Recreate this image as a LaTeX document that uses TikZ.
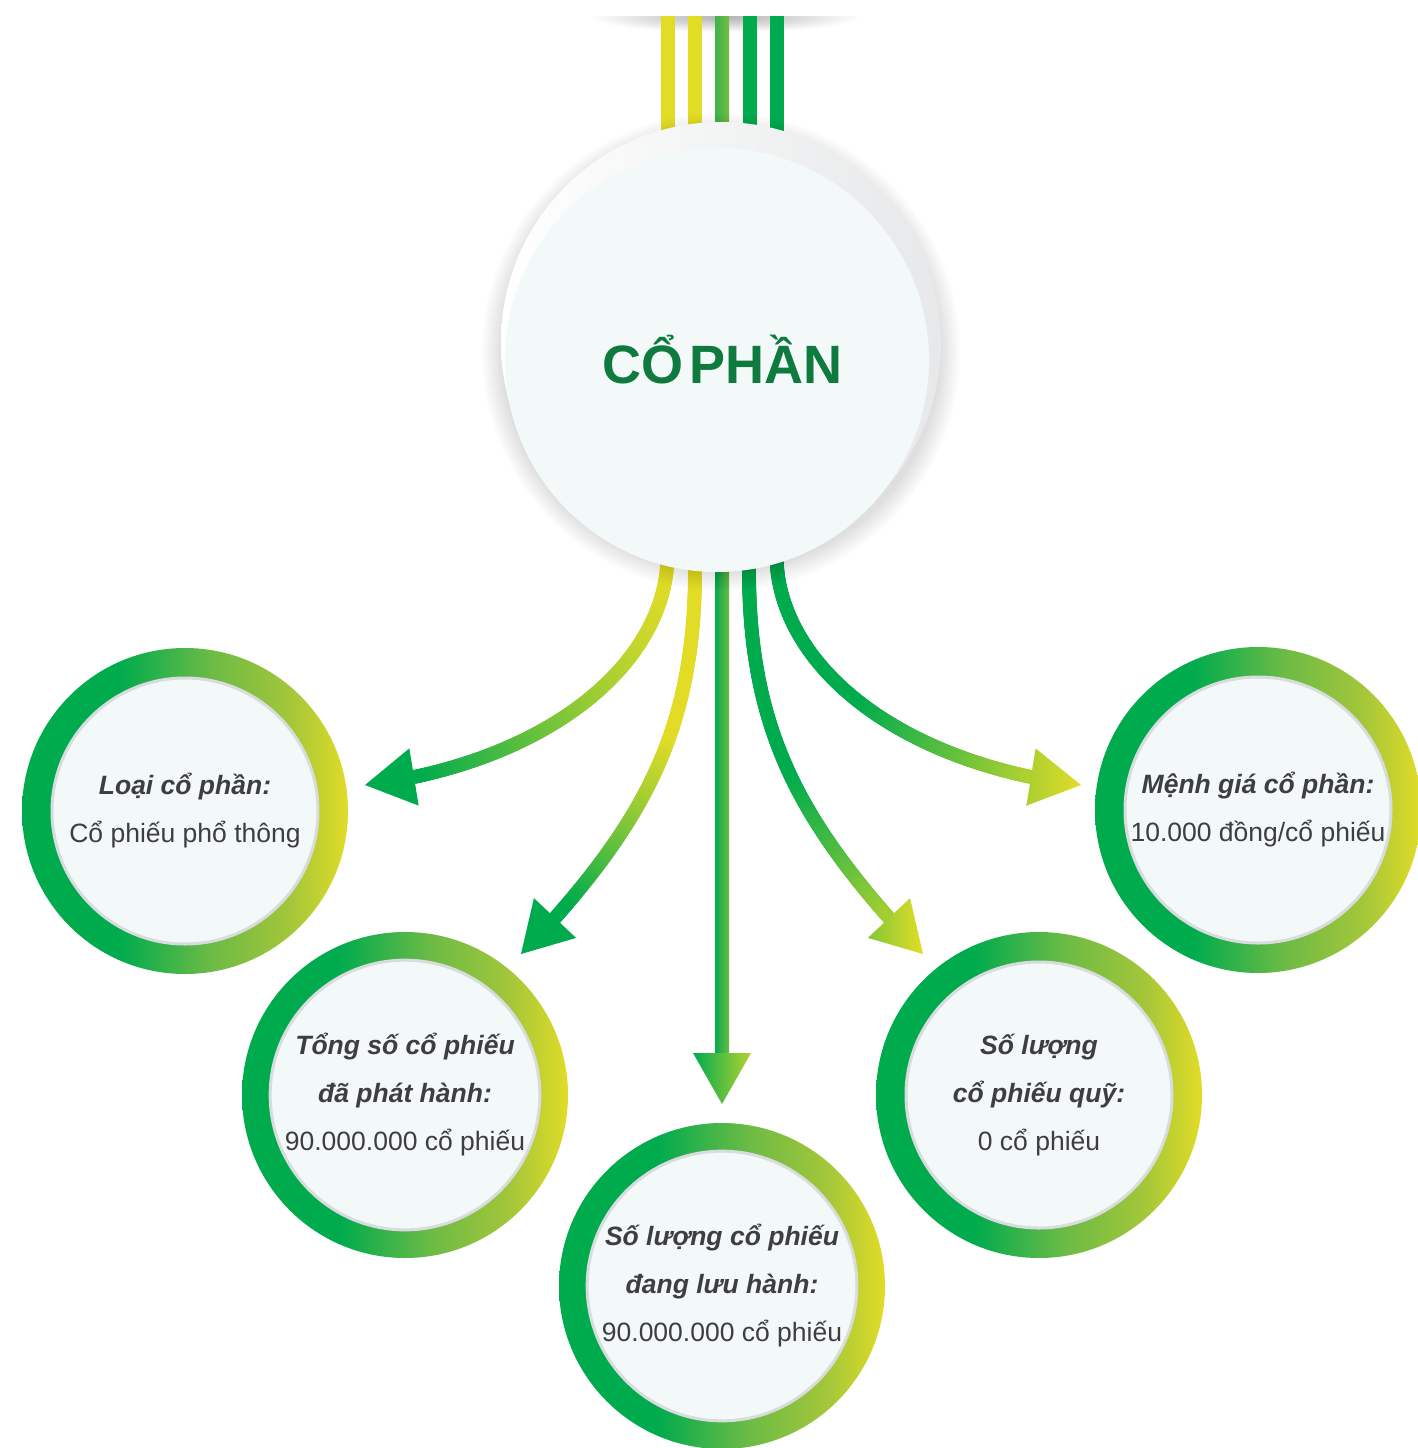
\documentclass[tikz,border=0pt]{standalone}
\usepackage{fontspec}
\setmainfont{Liberation Sans}
\usetikzlibrary{decorations.markings,calc,fadings}

\definecolor{grn}{HTML}{00AB4E}
\definecolor{yel}{HTML}{E2DC27}
\definecolor{midg}{HTML}{6CBB45}
\definecolor{ygrn}{HTML}{A3C63A}
\definecolor{disk}{HTML}{F3F8F8}
\definecolor{rim}{HTML}{D9DCDF}
\definecolor{ink}{HTML}{3E3E40}
\definecolor{deepgreen}{HTML}{0E7A3D}
\definecolor{barga}{HTML}{3BB44A}
\definecolor{bargb}{HTML}{74BC44}
\definecolor{diskgray}{HTML}{E6E8E9}

% ring colour: green on the left, turning yellow towards the right
\pgfdeclarehorizontalshading{ringfill}{100bp}{color(0bp)=(grn); color(25bp)=(grn); color(40bp)=(grn); color(54bp)=(midg); color(66bp)=(ygrn); color(75bp)=(yel); color(100bp)=(yel)}

\tikzfading[name=stripfade, inner color=transparent!0, outer color=transparent!100]

\newcommand\ringtitle[1]{\textbf{\textit{#1}}}

\tikzset{
  % thick stroke whose colour follows the x position: #3 at x=#1, #4 at x=#2
  gradstroke/.style n args={4}{decorate, decoration={markings,
      mark=between positions 0 and 1 step 1.5pt with {%
        \pgfgettransformentries{\gtA}{\gtB}{\gtC}{\gtD}{\gtX}{\gtY}%
        \pgfmathtruncatemacro\gpct{100*max(0,min(1,(\gtX-#1)/(#2-#1)))}%
        \colorlet{strokemix}{#4!\gpct!#3}%
        \fill[strokemix] (0,0) circle[radius=7pt];}}},
  topbar/.style={line width=14pt, line cap=butt},
  backdisk/.style={circle, minimum size=440pt, inner sep=0pt, left color=white, right color=diskgray},
  coredisk/.style={circle, minimum size=424pt, inner sep=0pt, fill=disk, text=deepgreen,
    font=\fontsize{54pt}{60pt}\selectfont\bfseries},
  ringouter/.style={circle, minimum size=326pt, inner sep=0pt, shade, shading=ringfill},
  ringinner/.style={circle, minimum size=266pt, inner sep=0pt, fill=disk, draw=rim, line width=3pt,
    align=center, text=ink, font=\fontsize{26.5pt}{48pt}\selectfont},
}

\begin{document}
\begin{tikzpicture}[x=1pt, y=-1pt]
\useasboundingbox (0,0) rectangle (1417,1448);
\fill[white] (0,0) rectangle (1417,1448);

% soft shadow strip at the top, cut off sharply along its upper edge
\fill[black, opacity=0.3, path fading=stripfade] (590,2) rectangle (860,32);
\fill[white] (0,0) rectangle (1417,16);

% five bars coming in from the top
\draw[topbar, yel] (668,16) -- (668,150);
\draw[topbar, yel] (695,16) -- (695,150);
\shade[left color=barga, right color=bargb] (715,16) rectangle (729,150);
\draw[topbar, grn] (750,16) -- (750,150);
\draw[topbar, grn] (777,16) -- (777,150);

% start, base and tip points of the five arrows
\coordinate (s1) at (667,540); \coordinate (b1) at (414,777);  \coordinate (t1) at (365,785);
\coordinate (s2) at (695,540); \coordinate (b2) at (555,918);  \coordinate (t2) at (521,954);
\coordinate (s3) at (722,540); \coordinate (b3) at (722,1053); \coordinate (t3) at (722,1104);
\coordinate (s4) at (749,540); \coordinate (b4) at (889,918);  \coordinate (t4) at (923,954);
\coordinate (s5) at (777,540); \coordinate (b5) at (1031,777); \coordinate (t5) at (1081,785);

% arrow shafts
\path[gradstroke={414}{667}{grn}{yel}] (s1) -- (667,567) .. controls (659,660) and (564,745) .. (b1);
\path[gradstroke={565}{668}{grn}{yel}] (s2) -- (695,570) .. controls (695,720) and (650,810) .. (b2);
\shade[left color=grn!95!midg, right color=midg] ($(s3)+(-7,0)$) rectangle ($(b3)+(7,2)$);
\path[gradstroke={790}{925}{grn}{yel}] (s4) -- (749,570) .. controls (749,720) and (794,810) .. (b4);
\path[gradstroke={860}{1081}{grn}{yel}] (s5) -- (777,567) .. controls (785,660) and (880,745) .. (b5);

% arrow heads
\fill[grn] ($(b1)!29pt!90:(t1)$) -- (t1) -- ($(b1)!29pt!-90:(t1)$) -- cycle;
\fill[grn] ($(b2)!29pt!90:(t2)$) -- (t2) -- ($(b2)!29pt!-90:(t2)$) -- cycle;
\shade[left color=grn, right color=yel!80!grn] ($(b3)!29pt!90:(t3)$) -- (t3) -- ($(b3)!29pt!-90:(t3)$) -- cycle;
\shade[left color=yel!58!grn, right color=yel] ($(b4)!29pt!90:(t4)$) -- (t4) -- ($(b4)!29pt!-90:(t4)$) -- cycle;
\shade[left color=yel!75!grn, right color=yel] ($(b5)!29pt!90:(t5)$) -- (t5) -- ($(b5)!29pt!-90:(t5)$) -- cycle;

% central disk with its soft shadow
\foreach \k in {0,...,15}
  \fill[black, opacity=0.009] (721,352) circle[radius=220+1.3*\k];
\node[backdisk] (cb) at (721,342) {};
\node[coredisk] (c) at (717,360) {\hspace*{11pt}CỔ\hspace{-0.17em} PHẦN};

% the five rings
\node[ringouter] (r1) at (185,811) {};
\node[ringinner] (n1) at (r1) {\ringtitle{Loại cổ phần:}\\Cổ phiếu phổ thông};

\node[ringouter] (r2) at (405,1095) {};
\node[ringinner] (n2) at (r2) {\ringtitle{Tổng số cổ phiếu}\\\ringtitle{đã phát hành:}\\90.000.000 cổ phiếu};

\node[ringouter] (r3) at (722,1286) {};
\node[ringinner] (n3) at (r3) {\ringtitle{Số lượng cổ phiếu}\\\ringtitle{đang lưu hành:}\\90.000.000 cổ phiếu};

\node[ringouter] (r4) at (1039,1095) {};
\node[ringinner] (n4) at (r4) {\ringtitle{Số lượng}\\\ringtitle{cổ phiếu quỹ:}\\0 cổ phiếu};

\node[ringouter] (r5) at (1258,810) {};
\node[ringinner] (n5) at (r5) {\ringtitle{Mệnh giá cổ phần:}\\10.000 đồng/cổ phiếu};
\end{tikzpicture}
\end{document}
